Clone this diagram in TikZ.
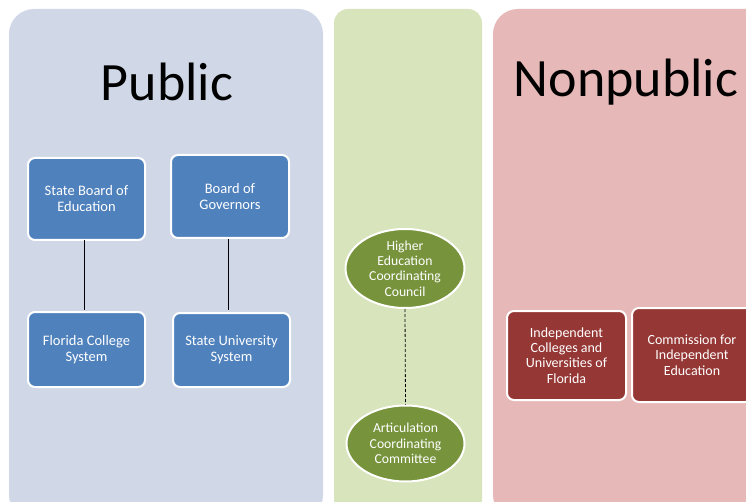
\documentclass[tikz,border=0pt]{standalone}
\usepackage{fontspec}
\setmainfont{Carlito}
\usetikzlibrary{shapes.geometric}
\definecolor{bluepanel}{HTML}{D0D8E8}
\definecolor{greenpanel}{HTML}{D8E4BC}
\definecolor{pinkpanel}{HTML}{E6B9B8}
\definecolor{bluebox}{HTML}{4F81BD}
\definecolor{greenbox}{HTML}{77933C}
\definecolor{redbox}{HTML}{953735}
\tikzset{
  title/.style={font=\fontsize{54}{60}\selectfont, text=black},
  bluenode/.style={draw=white, line width=2pt, fill=bluebox, rounded corners=7pt, text=white, align=center, font=\fontsize{14.5}{16}\selectfont, inner sep=2pt},
  rednode/.style={draw=white, line width=2pt, fill=redbox, rounded corners=7pt, text=white, align=center, font=\fontsize{14}{15.3}\selectfont, inner sep=2pt},
  greennode/.style={ellipse, draw=white, line width=2pt, fill=greenbox, text=white, align=center, font=\fontsize{13.7}{15.3}\selectfont, inner sep=0pt},
  link/.style={draw=black, line width=1pt},
}
\begin{document}
\begin{tikzpicture}[x=1pt, y=-1pt]
\clip (0,0) rectangle (746,502);
\fill[white] (0,0) rectangle (746,502);
% panels
\fill[bluepanel, rounded corners=25pt] (9,9) rectangle (323,520);
\fill[greenpanel, rounded corners=14pt] (334,9) rectangle (482,515);
\fill[pinkpanel, rounded corners=25pt] (493,9) rectangle (780,520);
% titles
\node[title] (pub) at (167,82) {Public};
\node[title] (nonpub) at (626,82) {Nonpublic};
% public boxes
\node[bluenode, minimum width=117pt, minimum height=82pt] (sbe) at (86.5,199) {State Board of\\Education};
\node[bluenode, minimum width=118pt, minimum height=83pt] (bog) at (230,196.5) {Board of\\Governors};
\node[bluenode, minimum width=117pt, minimum height=75pt] (fcs) at (86.5,349.5) {Florida College\\System};
\node[bluenode, minimum width=117pt, minimum height=74pt] (sus) at (231.5,350) {State University\\System};
\draw[link] (84,240) coordinate (a1) -- (84,310) coordinate (a2);
\draw[link] (228,239) coordinate (b1) -- (228,310) coordinate (b2);
% ellipses
\node[greennode, minimum width=119pt, minimum height=79pt] (hecc) at (405,268.5) {Higher\\Education\\Coordinating\\Council};
\node[greennode, minimum width=118pt, minimum height=76pt] (acc) at (405.5,443.5) {Articulation\\Coordinating\\Committee};
\draw[black, line width=0.8pt, dash pattern=on 3pt off 2pt] (hecc.south) -- (acc.north);
% nonpublic boxes
\node[rednode, minimum width=119pt, minimum height=89pt] (icuf) at (566.5,355.5) {Independent\\Colleges and\\Universities of\\Florida};
\node[rednode, minimum width=120pt, minimum height=94pt] (cie) at (692,355) {Commission for\\Independent\\Education};
\end{tikzpicture}
\end{document}
